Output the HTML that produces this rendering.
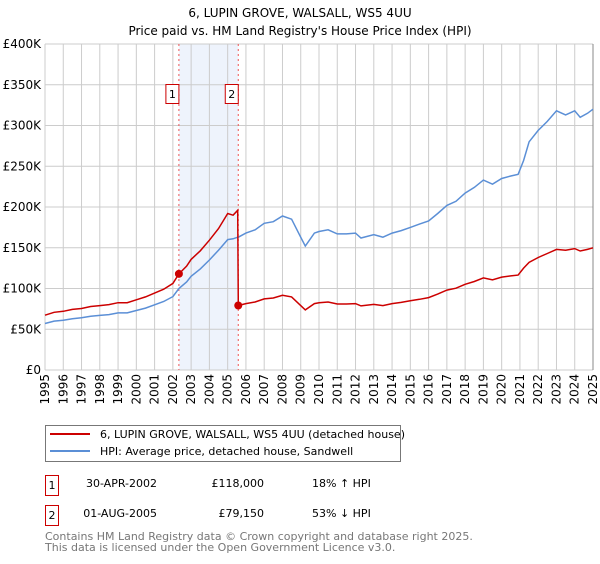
<!DOCTYPE html>
<html><head><meta charset="utf-8"><style>
body{margin:0;background:#fff;font-family:"DejaVu Sans","Liberation Sans",sans-serif;}
svg text{font-family:"DejaVu Sans","Liberation Sans",sans-serif;}
</style></head><body>
<svg id="c" width="600" height="560" xmlns="http://www.w3.org/2000/svg">
<text x="300" y="17" text-anchor="middle" font-size="12">6, LUPIN GROVE, WALSALL, WS5 4UU</text>
<text x="300" y="35" text-anchor="middle" font-size="12">Price paid vs. HM Land Registry's House Price Index (HPI)</text>
<g id="grid"></g><g id="marks"></g>
<g>
<rect x="45.5" y="425.5" width="355" height="36" fill="#fff" stroke="#777"/>
<line x1="50" y1="434" x2="90" y2="434" stroke="#cc0000" stroke-width="2"/>
<text x="100" y="438" font-size="11">6, LUPIN GROVE, WALSALL, WS5 4UU (detached house)</text>
<line x1="50" y1="451" x2="90" y2="451" stroke="#5b8fd6" stroke-width="2"/>
<text x="100" y="455" font-size="11">HPI: Average price, detached house, Sandwell</text>
</g>
<g font-size="11">
<rect x="45.5" y="475.5" width="13" height="20" fill="#fff" stroke="#cc0000"/><text x="52" y="489" text-anchor="middle">1</text>
<text x="157" y="487" text-anchor="end">30-APR-2002</text><text x="264" y="487" text-anchor="end">£118,000</text><text x="312" y="487">18% ↑ HPI</text>
<rect x="45.5" y="505.5" width="13" height="20" fill="#fff" stroke="#cc0000"/><text x="52" y="519" text-anchor="middle">2</text>
<text x="157" y="517" text-anchor="end">01-AUG-2005</text><text x="264" y="517" text-anchor="end">£79,150</text><text x="312" y="517">53% ↓ HPI</text>
</g>
<text x="45" y="540" font-size="11" fill="#777">Contains HM Land Registry data © Crown copyright and database right 2025.</text>
<text x="45" y="551" font-size="11" fill="#777">This data is licensed under the Open Government Licence v3.0.</text>
</svg>
<script>
const dates=[1995,1995.5,1996,1996.5,1997,1997.5,1998,1998.5,1999,1999.5,2000,2000.5,2001,2001.5,2002,2002.33,2002.75,2003,2003.5,2004,2004.5,2005,2005.3,2005.55,2005.58,2006,2006.5,2007,2007.5,2008,2008.5,2009,2009.25,2009.75,2010,2010.5,2011,2011.5,2012,2012.3,2013,2013.5,2014,2014.5,2015,2015.5,2016,2016.5,2017,2017.5,2018,2018.5,2019,2019.5,2020,2020.5,2020.9,2021.2,2021.5,2022,2022.5,2023,2023.5,2024,2024.3,2024.7,2025];
const hpi=[57,60,61,63,64,66,67,68,70,70,73,76,80,84,90,100,108,115,124,135,147,160,161,163,163,168,172,180,182,189,185,163,152,168,170,172,167,167,168,162,166,163,168,171,175,179,183,192,202,207,217,224,233,228,235,238,240,257,280,294,305,318,313,318,310,315,320];
const price=[67.3,70.8,72,74.3,75.5,77.9,79,80.2,82.6,82.6,86.1,89.7,94.4,99.1,106.2,118,127.4,135.7,146.3,159.3,173.5,192,190,196,79.15,81.5,83.4,87.3,88.3,91.7,89.7,79,73.7,81.5,82.5,83.4,81,81,81.5,78.6,80.5,79,81.5,82.9,84.9,86.8,88.8,93.1,98,100.4,105.2,108.6,113,110.6,114,115.4,116.4,125,132,138,143,148,147,149,146,148,150];
const yTicks=[0,50,100,150,200,250,300,350,400];
const xTicks=[1995,1996,1997,1998,1999,2000,2001,2002,2003,2004,2005,2006,2007,2008,2009,2010,2011,2012,2013,2014,2015,2016,2017,2018,2019,2020,2021,2022,2023,2024,2025];
const saleDates=[2002.33,2005.58];
const saleValues=[118,79.15];
const saleLabels=["1","2"];
const X0=45,X1=593,Y0=370,Y1=44;
const sx=d=>X0+(d-1995)/30*(X1-X0);
const sy=v=>Y0-v/400*(Y0-Y1);
const NS="http://www.w3.org/2000/svg";
const grid=document.getElementById('grid'),marks=document.getElementById('marks');
function mk(tag,attrs,parent){const e=document.createElementNS(NS,tag);for(const k in attrs)e.setAttribute(k,attrs[k]);parent.appendChild(e);return e;}
const shade=mk('rect',{x:sx(saleDates[0]),y:Y1,width:sx(saleDates[1])-sx(saleDates[0]),height:Y0-Y1,fill:'#eef3fc'},grid);


yTicks.forEach(v=>{
  const l=mk('line',{x1:X0,x2:X1,y1:sy(v),y2:sy(v),stroke:'#cccccc'},grid);
  
  
  const t=mk('text',{x:X0-4,y:sy(v)+4,'text-anchor':'end','font-size':12},grid);
  
  
  t.textContent=v===0?'£0':'£'+v+'K';
});
xTicks.forEach(d=>{
  const l=mk('line',{x1:sx(d),x2:sx(d),y1:Y1,y2:Y0,stroke:'#cccccc'},grid);
  
  
  const t=mk('text',{x:0,y:0,'text-anchor':'end','font-size':12,transform:`translate(${sx(d)+4},${Y0+4}) rotate(-90)`},grid);
  
  
  t.textContent=d;
});
const edge=mk('line',{x1:X1,x2:X1,y1:Y1,y2:Y0,stroke:'#888'},grid);


saleDates.forEach((d,i)=>{
  const l=mk('line',{x1:sx(d),x2:sx(d),y1:Y1,y2:Y0,stroke:'#ee5555','stroke-dasharray':'2,3'},marks);
  
  
  const b=mk('rect',{x:sx(d)-13,y:84.5,width:13,height:19,fill:'#fff',stroke:'#cc0000'},marks);
  
  
  const t=mk('text',{x:sx(d)-6.5,y:98,'text-anchor':'middle','font-size':11},marks);
  
  
  t.textContent=saleLabels[i];
});
const hp=mk('path',{d:dates.map((d,i)=>(i?'L':'M')+sx(d).toFixed(1)+','+sy(hpi[i]).toFixed(1)).join(''),fill:'none',stroke:'#5b8fd6','stroke-width':1.5},marks);


const pp=mk('path',{d:dates.map((d,i)=>(i?'L':'M')+sx(d).toFixed(1)+','+sy(price[i]).toFixed(1)).join(''),fill:'none',stroke:'#cc0000','stroke-width':1.5},marks);


saleDates.forEach((d,i)=>{
  const c=mk('circle',{cx:sx(d),cy:sy(saleValues[i]),r:4,fill:'#cc0000'},marks);
  
  
});
</script>
</body></html>
